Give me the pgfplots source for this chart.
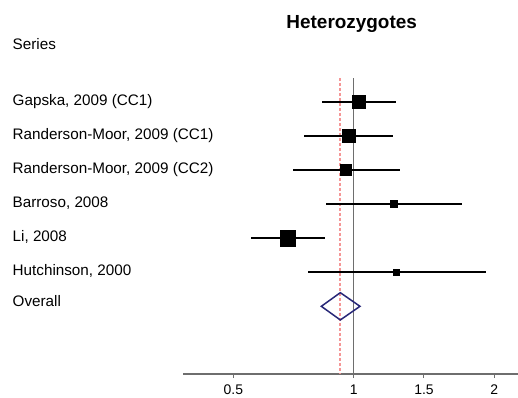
\documentclass[border=0pt]{standalone}
\usepackage{pgfplots}
\pgfplotsset{compat=1.18}
\usepackage{pgfplotstable}
\usepackage{fontspec}
\setmainfont{Liberation Sans}
\definecolor{diamondblue}{RGB}{40,40,120}
\definecolor{refred}{RGB}{245,150,150}
\definecolor{axisgray}{RGB}{110,110,110}

% x in display units: 1 -> 0, 1.5 -> 0.5, 2 -> 1, 0.5 -> -0.856
\pgfplotstableread{
row or lo hi size
-1 0.038 -0.228 0.301 6.5
-2 -0.036 -0.351 0.280 6.2
-3 -0.055 -0.434 0.331 5.7
-4 0.287 -0.197 0.770 3.6
-5 -0.467 -0.730 -0.204 7.6
-6 0.306 -0.323 0.941 3.0
}\studies

\begin{document}
\begin{tikzpicture}
\path[use as bounding box] (0,0) rectangle (518bp,-398bp);
\begin{axis}[
  at={(183bp,-374bp)}, anchor=south west,
  scale only axis, width=335bp, height=296bp,
  xmin=-1.214, xmax=1.169, ymin=-8.985, ymax=-0.305,
  axis x line*=bottom, axis y line=none,
  x axis line style={axisgray, line width=1.2bp, -},
  xtick={-0.856,0,0.5,1}, xticklabels={0.5,1,1.5,2},
  tick align=outside, major tick length=4bp,
  xtick style={axisgray, line width=1bp},
  ytick=\empty,
  tick label style={font=\fontsize{14}{16}\selectfont, yshift=-3bp},
  /pgf/number format/assume math mode=true,
  clip=false,
]
\addplot[axisgray, line width=1bp] coordinates {(0,-0.305) (0,-8.985)};
\addplot[refred, line width=1.4bp, dash pattern=on 3bp off 2bp] coordinates {(-0.097,-0.305) (-0.097,-8.985)};
\addplot[only marks, mark=square*, black, scatter,
  scatter/use mapped color={draw=black, fill=black},
  visualization depends on={\thisrow{size} \as \msize},
  scatter/@pre marker code/.append style={/tikz/mark size=\msize bp},
  error bars/.cd, x dir=both, x explicit, error mark=none,
  error bar style={line width=1.8bp, black}]
  table[x=or, y=row, x error plus expr=\thisrow{hi}-\thisrow{or}, x error minus expr=\thisrow{or}-\thisrow{lo}] {\studies};
\addplot[diamondblue, line width=1.5bp, line join=miter] coordinates {(-0.230,-7) (-0.095,-6.6) (0.045,-7) (-0.095,-7.4)} -- cycle;
\end{axis}
\begin{scope}[every node/.style={inner sep=0pt, anchor=base west, font=\fontsize{15.3}{18}\selectfont}]
\node at (12.5bp,-49.3bp) {Series};
\node at (12.5bp,-105bp) {Gapska, 2009 (CC1)};
\node at (12.5bp,-139.3bp) {Randerson-Moor, 2009 (CC1)};
\node at (12.5bp,-173.5bp) {Randerson-Moor, 2009 (CC2)};
\node at (12.5bp,-207.5bp) {Barroso, 2008};
\node at (12.5bp,-241.7bp) {Li, 2008};
\node at (12.5bp,-275.7bp) {Hutchinson, 2000};
\node at (12.5bp,-306.7bp) {Overall};
\end{scope}
\node[inner sep=0pt, anchor=base, font=\bfseries\fontsize{19}{22}\selectfont] at (351.7bp,-28.3bp) {Heterozygotes};
\end{tikzpicture}
\end{document}
